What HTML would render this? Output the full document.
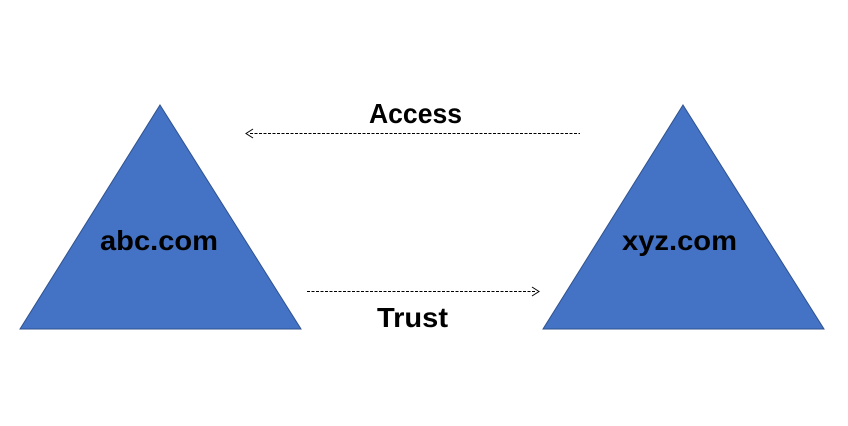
<!DOCTYPE html>
<html><head><style>html,body{margin:0;padding:0;background:#fff;}svg{display:block}</style></head>
<body>
<svg width="848" height="426" viewBox="0 0 848 426" xmlns="http://www.w3.org/2000/svg">
<rect width="848" height="426" fill="#fff"/>
<polygon points="160,105 301,329 20,329" fill="#4472C4" stroke="#2F528F" stroke-width="1"/>
<polygon points="683,105 824,329 543,329" fill="#4472C4" stroke="#2F528F" stroke-width="1"/>
<g font-family="Liberation Sans, sans-serif" font-weight="bold" fill="#000">
<text x="100" y="250" font-size="28" textLength="118" lengthAdjust="spacingAndGlyphs">abc.com</text>
<text x="622" y="250" font-size="28" textLength="115" lengthAdjust="spacingAndGlyphs">xyz.com</text>
<text x="369" y="123" font-size="28" textLength="93" lengthAdjust="spacingAndGlyphs">Access</text>
<text x="377" y="327" font-size="28" textLength="71" lengthAdjust="spacingAndGlyphs">Trust</text>
</g>
<g stroke="#000" stroke-width="1" fill="none">
<line x1="250" y1="133.5" x2="580" y2="133.5" stroke-dasharray="3,1.5"/>
<polyline points="253,129 246,133.5 253,138"/>
<line x1="307" y1="291.5" x2="536" y2="291.5" stroke-dasharray="3,1.5"/>
<polyline points="532,287 539,291.5 532,296"/>
</g>
</svg>
</body></html>
